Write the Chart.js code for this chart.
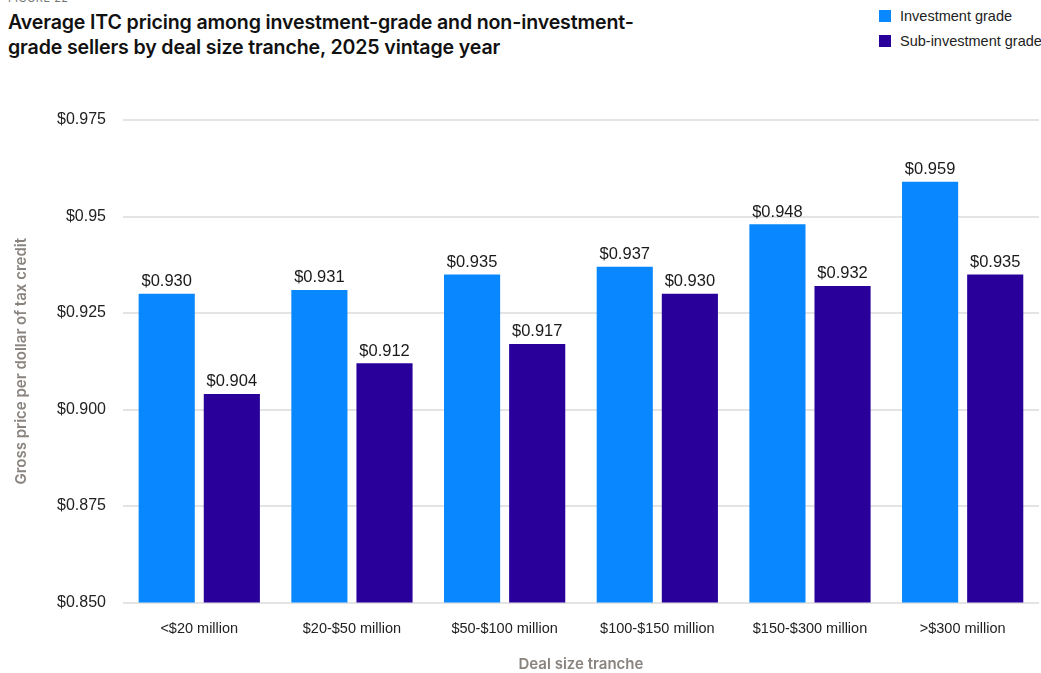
<!DOCTYPE html>
<html>
<head>
<meta charset="utf-8">
<script src="https://cdn.jsdelivr.net/npm/chart.js@4.4.1/dist/chart.umd.min.js"></script>
<style>
  body { margin: 0; background: #fff; width: 1041px; height: 673px; overflow: hidden; position: relative; font-family: Inter, "Liberation Sans", sans-serif; }
  #fig { position: absolute; left: 8px; top: -9px; font-size: 11px; color: #777; letter-spacing: 0.5px; }
  #title { position: absolute; left: 8px; top: 10px; font-size: 19.6px; font-weight: 600; line-height: 25px; color: #111; letter-spacing: -0.15px; }
  #legend { position: absolute; left: 879px; top: 3px; font-family: "Liberation Sans", sans-serif; font-size: 14.5px; color: #222; }
  .item { display: flex; align-items: center; height: 25px; white-space: nowrap; }
  .sw { width: 12px; height: 12px; margin-right: 9px; }
  canvas { position: absolute; left: 0; top: 0; }
</style>
</head>
<body>
<div id="fig">FIGURE 22</div>
<div id="title">Average ITC pricing among investment-grade and non-investment-<br>grade sellers by deal size tranche, 2025 vintage year</div>
<div id="legend"></div>
<canvas id="itcChart" width="1041" height="673"></canvas>
<script>
const tranches = ['<$20 million', '$20-$50 million', '$50-$100 million', '$100-$150 million', '$150-$300 million', '>$300 million'];
const investmentGrade = [0.930, 0.931, 0.935, 0.937, 0.948, 0.959];
const subInvestmentGrade = [0.904, 0.912, 0.917, 0.930, 0.932, 0.935];
const yTickValues = [0.850, 0.875, 0.900, 0.925, 0.950, 0.975];
const yTickLabels = ['$0.850', '$0.875', '$0.900', '$0.925', '$0.95', '$0.975'];

const seriesNames = ['Investment grade', 'Sub-investment grade'];
const seriesColors = ['#0887ff', '#2a009b'];

// legend boxes in the top right corner
const legendEl = document.getElementById('legend');
seriesNames.forEach((name, i) => {
  const row = document.createElement('div');
  row.className = 'item';
  row.innerHTML = '<span class="sw" style="background:' + seriesColors[i] + '"></span>' + name;
  legendEl.appendChild(row);
});

// value labels above each bar
const barLabels = {
  id: 'barLabels',
  afterDatasetsDraw(chart) {
    const ctx = chart.ctx;
    ctx.save();
    ctx.font = '16.5px "Liberation Sans", sans-serif';
    ctx.fillStyle = '#1a1a1a';
    ctx.textAlign = 'center';
    ctx.textBaseline = 'bottom';
    chart.data.datasets.forEach((ds, i) => {
      chart.getDatasetMeta(i).data.forEach((bar, j) => {
        ctx.fillText('$' + ds.data[j].toFixed(3), bar.x, bar.y - 4);
      });
    });
    ctx.restore();
  }
};

new Chart(document.getElementById('itcChart'), {
  type: 'bar',
  data: {
    labels: tranches,
    datasets: [
      { label: seriesNames[0], data: investmentGrade, backgroundColor: seriesColors[0] },
      { label: seriesNames[1], data: subInvestmentGrade, backgroundColor: seriesColors[1] }
    ]
  },
  options: {
    responsive: false,
    animation: false,
    layout: { padding: { top: 120, right: 2, left: 8, bottom: 0 } },
    datasets: { bar: { categoryPercentage: 0.853, barPercentage: 0.862 } },
    plugins: {
      legend: { display: false },
      tooltip: { enabled: false }
    },
    scales: {
      x: {
        grid: { display: false },
        border: { display: false },
        ticks: { color: '#222', font: { family: 'Liberation Sans', size: 14.5 }, padding: 10 },
        title: { display: true, text: 'Deal size tranche', color: '#8a847f', font: { family: 'Inter', size: 15, weight: '600' }, padding: { top: 7, bottom: 0 } }
      },
      y: {
        min: 0.85,
        max: 0.975,
        afterBuildTicks: axis => { axis.ticks = yTickValues.map(v => ({ value: v })); },
        grid: { color: '#e4e4e4', lineWidth: 2, drawTicks: false },
        border: { display: false },
        ticks: {
          color: '#222',
          font: { family: 'Liberation Sans', size: 16 },
          padding: 17,
          callback: (v, i) => yTickLabels[i]
        },
        title: { display: true, text: 'Gross price per dollar of tax credit', color: '#8a847f', font: { family: 'Inter', size: 15, weight: '600' }, padding: { top: 4, bottom: 10 } }
      }
    }
  },
  plugins: [barLabels]
});
</script>
</body>
</html>
